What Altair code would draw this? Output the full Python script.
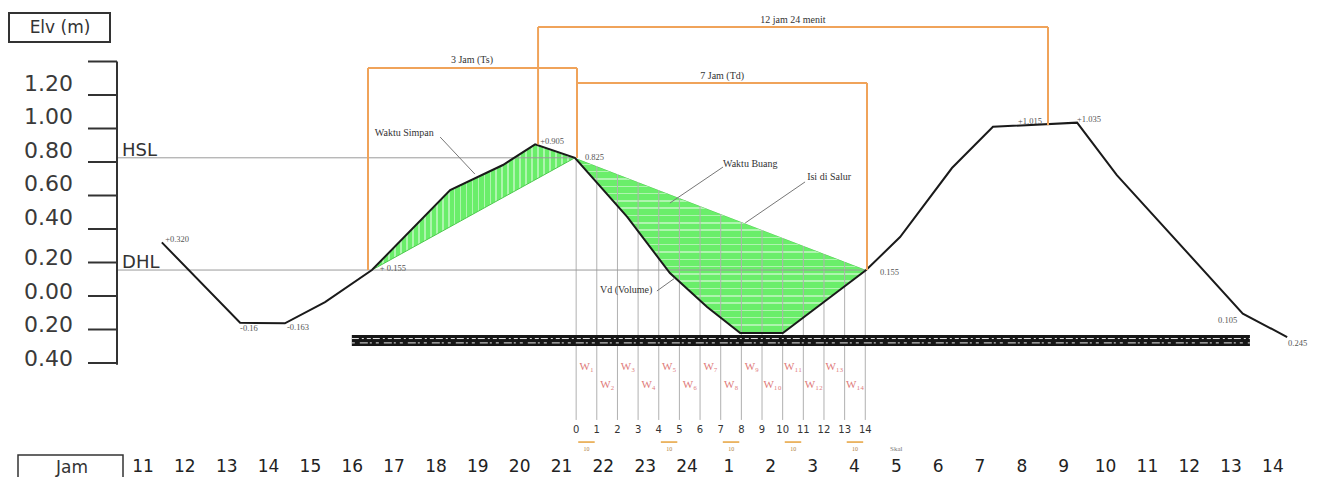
import altair as alt
import pandas as pd

# ---------------- data ----------------
# x = hours counted from the first label (11:00 -> 0), y = elevation (m)
hour_pos = list(range(28))
hour_text = [11, 12, 13, 14, 15, 16, 17, 18, 19, 20, 21, 22, 23, 24,
             1, 2, 3, 4, 5, 6, 7, 8, 9, 10, 11, 12, 13, 14]

curve_t = [0.45, 2.32, 3.39, 4.35, 5.47, 7.34, 8.60, 9.37, 10.32, 11.57, 12.59,
           13.48, 14.27, 15.29, 17.28, 18.09, 19.33, 20.31, 22.32, 23.27, 26.28, 27.34]
curve_v = [0.320, -0.160, -0.163, -0.036, 0.155, 0.633, 0.782, 0.905, 0.825, 0.472, 0.137,
           -0.066, -0.221, -0.221, 0.155, 0.352, 0.764, 1.010, 1.035, 0.722, -0.105, -0.245]

HSL = 0.825
DHL = 0.155
axis_ticks = [1.4, 1.2, 1.0, 0.8, 0.6, 0.4, 0.2, 0.0, -0.2, -0.4]
axis_labels = ["", "1.20", "1.00", "0.80", "0.60", "0.40", "0.20", "0.00", "0.20", "0.40"]

# value labels next to the vertices
val_text = ["+0.320", "-0.16", "-0.163", "+ 0.155", "+0.905", "0.825", "0.155",
            "+1.015", "+1.035", "0.105", "0.245"]
val_t = [0.53, 2.32, 3.44, 5.66, 9.49, 10.56, 17.61, 20.91, 22.32, 25.69, 27.36]
val_v = [0.340, -0.191, -0.185, 0.167, 0.925, 0.830, 0.143, 1.045, 1.057, -0.143, -0.281]

# annotations with leader lines
note_text = ["Waktu Simpan", "Waktu Buang", "Isi di Salur", "Vd (Volume)"]
note_t = [5.54, 13.86, 15.87, 10.92]
note_v = [0.973, 0.788, 0.710, 0.036]
lead_t = [7.10, 13.86, 15.82, 12.28]
lead_t2 = [7.93, 12.59, 14.39, 12.71]
lead_v = [0.949, 0.770, 0.681, 0.030]
lead_v2 = [0.728, 0.555, 0.436, 0.107]

# orange dimension brackets
br_t = [5.376, 5.376, 10.37, 9.44, 9.44, 21.625, 10.37, 10.37, 17.30]
br_t2 = [10.37, 5.376, 10.37, 21.625, 9.44, 21.625, 17.30, 10.37, 17.30]
br_v = [1.361, 1.361, 1.361, 1.606, 1.606, 1.606, 1.272, 1.272, 1.272]
br_v2 = [1.361, 0.155, 0.825, 1.606, 0.905, 1.020, 1.272, 0.825, 0.155]
br_label = ["3 Jam (Ts)", "12 jam 24 menit", "7 Jam (Td)"]
br_label_t = [7.86, 15.53, 13.84]
br_label_v = [1.409, 1.648, 1.313]

# half-hour division lines 0..14
sub_k = list(range(15))
sub_t = [10.35 + 0.4935 * k for k in sub_k]
sub_text = [str(k) for k in sub_k]
w_text = ["W₁", "W₂", "W₃", "W₄", "W₅", "W₆", "W₇", "W₈", "W₉", "W₁₀", "W₁₁", "W₁₂", "W₁₃", "W₁₄"]
arrow_k = [0, 4, 7, 10, 13]

ground_t = [4.99, 26.45]
ground_v = -0.266

# ---------------- helpers ----------------
H = 469
xs = alt.Scale(domain=[-3.2258, 28.029], nice=False, zero=False)
ys = alt.Scale(domain=[1.7194 - H / 167.5, 1.7194], nice=False, zero=False)


def X(f):
    return alt.X(f, type="quantitative", scale=xs, axis=None, title=None)


def Y(f):
    return alt.Y(f, type="quantitative", scale=ys, axis=None, title=None)


def stripes(n, base, line, frac, vertical_lines):
    stops = []
    for k in range(n):
        a = k / n
        b = (k + 1) / n
        m = a + (b - a) * (1 - frac)
        stops += [alt.GradientStop(color=base, offset=round(a, 5)),
                  alt.GradientStop(color=base, offset=round(m, 5)),
                  alt.GradientStop(color=line, offset=round(m, 5)),
                  alt.GradientStop(color=line, offset=round(b, 5))]
    if vertical_lines:
        return alt.LinearGradient(gradient="linear", stops=stops, x1=0, x2=1, y1=0, y2=0)
    return alt.LinearGradient(gradient="linear", stops=stops, x1=0, x2=0, y1=0, y2=1)


curve = pd.DataFrame({"t": curve_t, "v": curve_v, "idx": list(range(len(curve_t)))})
tA, vA = curve_t[4], curve_v[4]
tB, vB = curve_t[8], curve_v[8]
tC, vC = curve_t[14], curve_v[14]

green = "#6aee6a"
pale = "#aef5ae"

areaA = alt.Chart(curve).transform_filter("datum.idx >= 4 && datum.idx <= 8").transform_calculate(
    chord=f"{vA} + ({vB} - {vA}) * (datum.t - {tA}) / ({tB} - {tA})"
).mark_area(color=stripes(34, green, pale, 0.3, True)).encode(x=X("t"), y=Y("v"), y2="chord:Q")

areaB = alt.Chart(curve).transform_filter("datum.idx >= 8 && datum.idx <= 14").transform_calculate(
    chord=f"{vB} + ({vC} - {vB}) * (datum.t - {tB}) / ({tC} - {tB})"
).mark_area(color=stripes(24, green, pale, 0.2, False)).encode(x=X("t"), y=Y("v"), y2="chord:Q")

chords = alt.Chart(curve).transform_filter(
    "datum.idx == 4 || datum.idx == 8 || datum.idx == 14"
).mark_line(color="#4cc84c", strokeWidth=1).encode(x=X("t"), y=Y("v"))

levels = pd.DataFrame({"t0": [-0.62, -0.62], "t1": [tB, tC], "v": [HSL, DHL]})
level_lines = alt.Chart(levels).mark_rule(color="#9a9a9a", strokeWidth=1).encode(
    x=X("t0"), x2="t1:Q", y=Y("v"))

level_text = alt.Chart(pd.DataFrame({"t": [-0.5, -0.5], "v": [HSL, DHL], "s": ["HSL", "DHL"]})).mark_text(
    align="left", baseline="alphabetic", dy=-2, font="DejaVu Sans", fontSize=18, color="#333"
).encode(x=X("t"), y=Y("v"), text="s:N")

subs = pd.DataFrame({"t": sub_t, "s": sub_text, "top": [0.9] * 15, "bot": [-0.74] * 15, "lab": [-0.80] * 15})
sub_lines = alt.Chart(subs).mark_rule(color="#b0b0b0", strokeWidth=1).encode(
    x=X("t"), y=Y("top"), y2="bot:Q")
mask = alt.Chart(curve).transform_filter("datum.idx == 8 || datum.idx == 14").transform_calculate(
    top="1.0").mark_area(color="white").encode(x=X("t"), y=Y("v"), y2="top:Q")
sub_labels = alt.Chart(subs).mark_text(font="DejaVu Sans", fontSize=10, color="#333", baseline="middle").encode(
    x=X("t"), y=Y("lab"), text="s:N")

wdf = pd.DataFrame({"t": [sub_t[k] + 0.25 for k in range(14)], "s": w_text,
                    "v": [-0.424 if k % 2 == 0 else -0.531 for k in range(14)]})
w_labels = alt.Chart(wdf).mark_text(font="Liberation Serif", fontSize=11, color="#e07a7a").encode(
    x=X("t"), y=Y("v"), text="s:N")

adf = pd.DataFrame({"t": [sub_t[k] + 0.05 for k in arrow_k], "t2": [sub_t[k + 1] - 0.05 for k in arrow_k],
                    "v": [-0.872] * len(arrow_k), "vt": [-0.915] * len(arrow_k), "s": ["10"] * len(arrow_k),
                    "tc": [sub_t[k] + 0.25 for k in arrow_k]})
arrows = alt.Chart(adf).mark_rule(color="#e6a23c", strokeWidth=1.5).encode(x=X("t"), x2="t2:Q", y=Y("v"))
arrow_txt = alt.Chart(adf).mark_text(font="Liberation Serif", fontSize=6, color="#b08040").encode(
    x=X("tc"), y=Y("vt"), text="s:N")
skal = alt.Chart(pd.DataFrame({"t": [17.85], "v": [-0.915], "s": ["Skal"]})).mark_text(
    align="left", font="Liberation Serif", fontSize=7, color="#777").encode(x=X("t"), y=Y("v"), text="s:N")

gdf = pd.DataFrame({"t": [ground_t[0]], "t2": [ground_t[1]], "v": [ground_v],
                    "va": [ground_v + 0.012], "vb": [ground_v - 0.014]})
ground = alt.Chart(gdf).mark_rule(color="#161616", strokeWidth=11).encode(x=X("t"), x2="t2:Q", y=Y("v"))
ground_a = alt.Chart(gdf).mark_rule(color="#e8e8e8", strokeWidth=1, strokeDash=[7, 3, 2, 3, 4, 2]).encode(
    x=X("t"), x2="t2:Q", y=Y("va"))
ground_b = alt.Chart(gdf).mark_rule(color="#e8e8e8", strokeWidth=1, strokeDash=[3, 5, 8, 2, 2, 4]).encode(
    x=X("t"), x2="t2:Q", y=Y("vb"))

curve_line = alt.Chart(curve).mark_line(color="#1a1a1a", strokeWidth=2).encode(
    x=X("t"), y=Y("v"), order="idx:Q")

br = pd.DataFrame({"t": br_t, "t2": br_t2, "v": br_v, "v2": br_v2})
brackets = alt.Chart(br).mark_rule(color="#f0a35a", strokeWidth=2).encode(
    x=X("t"), x2="t2:Q", y=Y("v"), y2="v2:Q")
br_text = alt.Chart(pd.DataFrame({"t": br_label_t, "v": br_label_v, "s": br_label})).mark_text(
    font="Liberation Serif", fontSize=10, color="#333").encode(x=X("t"), y=Y("v"), text="s:N")

ld = pd.DataFrame({"t": lead_t, "t2": lead_t2, "v": lead_v, "v2": lead_v2})
leaders = alt.Chart(ld).mark_rule(color="#777", strokeWidth=1).encode(x=X("t"), x2="t2:Q", y=Y("v"), y2="v2:Q")
notes = alt.Chart(pd.DataFrame({"t": note_t, "v": note_v, "s": note_text})).mark_text(
    align="left", font="Liberation Serif", fontSize=10, color="#333").encode(x=X("t"), y=Y("v"), text="s:N")
vals = alt.Chart(pd.DataFrame({"t": val_t, "v": val_v, "s": val_text})).mark_text(
    align="left", font="Liberation Serif", fontSize=8.5, color="#555").encode(x=X("t"), y=Y("v"), text="s:N")

# ---- elevation axis (drawn as marks) ----
axis_line = alt.Chart(pd.DataFrame({"top": [axis_ticks[0]], "bot": [axis_ticks[-1] - 0.01]})).mark_rule(
    color="#333", strokeWidth=2).encode(x=alt.value(109), y=Y("top"), y2="bot:Q")
tdf = pd.DataFrame({"v": axis_ticks, "s": axis_labels})
axis_tk = alt.Chart(tdf).mark_rule(color="#333", strokeWidth=2).encode(
    x=alt.value(80), x2=alt.value(109), y=Y("v"))
axis_lab_hi = alt.Chart(tdf).transform_filter("datum.v > 0.3").mark_text(
    align="right", baseline="middle", dy=-11, font="DejaVu Sans", fontSize=22, color="#3a3a3a").encode(
    x=alt.value(65), y=Y("v"), text="s:N")
axis_lab_lo = alt.Chart(tdf).transform_filter("datum.v <= 0.3").mark_text(
    align="right", baseline="middle", dy=-4, font="DejaVu Sans", fontSize=22, color="#3a3a3a").encode(
    x=alt.value(65), y=Y("v"), text="s:N")

# ---- hour row ----
hdf = pd.DataFrame({"t": hour_pos, "s": [str(h) for h in hour_text]})
hours = alt.Chart(hdf).mark_text(baseline="middle", font="DejaVu Sans", fontSize=17, color="#222").encode(
    x=X("t"), y=alt.value(459), text="s:N")

one = pd.DataFrame({"a": [0]})
elv_box = alt.Chart(one).mark_rect(fill="white", stroke="#333", strokeWidth=2).encode(
    x=alt.value(1), x2=alt.value(102), y=alt.value(5), y2=alt.value(34))
elv_txt = alt.Chart(one).mark_text(font="DejaVu Sans", fontSize=17, color="#333", baseline="middle").encode(
    x=alt.value(52), y=alt.value(19.5), text=alt.value("Elv (m)"))
jam_box = alt.Chart(one).mark_rect(fill="white", stroke="#333", strokeWidth=1.5).encode(
    x=alt.value(10), x2=alt.value(115), y=alt.value(447), y2=alt.value(480))
jam_txt = alt.Chart(one).mark_text(font="DejaVu Sans", fontSize=17, color="#333", baseline="middle").encode(
    x=alt.value(64), y=alt.value(460), text=alt.value("Jam"))

chart = alt.layer(
    areaA, areaB, chords, sub_lines, mask, level_lines, level_text,
    ground, ground_a, ground_b, curve_line, brackets, br_text, leaders, notes, vals,
    sub_labels, w_labels, arrows, arrow_txt, skal,
    axis_line, axis_tk, axis_lab_hi, axis_lab_lo, hours,
    elv_box, elv_txt, jam_box, jam_txt
).properties(
    width=1308, height=H, padding=0, background="white",
    autosize=alt.AutoSizeParams(type="none")
).configure_view(stroke=None)

chart.save("out.html", embed_options={"renderer": "svg", "actions": False})
